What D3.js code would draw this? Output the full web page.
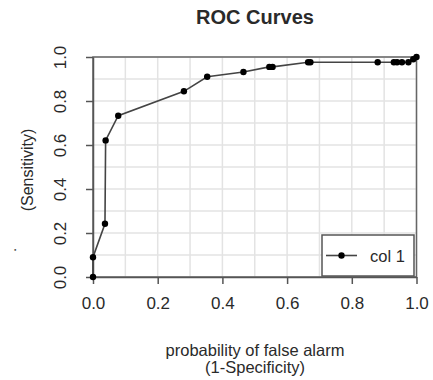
<!DOCTYPE html>
<html>
<head>
<meta charset="utf-8">
<script src="https://cdn.jsdelivr.net/npm/d3@7"></script>
<style>
  body { margin: 0; background: #fff; }
  text { font-family: "Liberation Sans", Arial, sans-serif; fill: #2a2a2a; }
</style>
</head>
<body>
<div id="chart"></div>
<script>
// data
var fpr = [0, 0, 0.037, 0.039, 0.078, 0.281, 0.353, 0.465, 0.545, 0.555, 0.665, 0.672, 0.88, 0.93, 0.94, 0.955, 0.975, 0.99, 1.0];
var tpr = [0, 0.09, 0.242, 0.621, 0.733, 0.844, 0.91, 0.932, 0.955, 0.955, 0.976, 0.976, 0.976, 0.976, 0.976, 0.976, 0.976, 0.99, 1.0];
var tickVals = [0, 0.2, 0.4, 0.6, 0.8, 1.0];
var gridVals = d3.range(0, 11).map(function (i) { return i / 10; });
var seriesName = "col 1";

var margin = { top: 57, right: 16.5, bottom: 103, left: 93 },
  width = 433 - margin.left - margin.right,
  height = 380 - margin.top - margin.bottom;

var root = d3.select("#chart").append("svg")
  .attr("width", 433)
  .attr("height", 380);

var svg = root.append("g")
  .attr("transform", "translate(" + margin.left + "," + margin.top + ")");

var x = d3.scaleLinear().domain([0, 1]).range([0, width]);
var y = d3.scaleLinear().domain([0, 1]).range([height, 0]);

// grid
svg.selectAll(".vgrid").data(gridVals).enter().append("line")
  .attr("x1", function (d) { return x(d); })
  .attr("x2", function (d) { return x(d); })
  .attr("y1", 0).attr("y2", height)
  .attr("stroke", "#e3e3e3").attr("stroke-width", 1.5);
svg.selectAll(".hgrid").data(gridVals).enter().append("line")
  .attr("y1", function (d) { return y(d); })
  .attr("y2", function (d) { return y(d); })
  .attr("x1", 0).attr("x2", width)
  .attr("stroke", "#e3e3e3").attr("stroke-width", 1.5);

// box
svg.append("rect")
  .attr("width", width).attr("height", height)
  .attr("fill", "none").attr("stroke", "#666").attr("stroke-width", 1.5);

// axes
var xAxis = svg.append("g")
  .attr("transform", "translate(0," + height + ")")
  .call(d3.axisBottom(x).tickValues(tickVals).tickFormat(d3.format(".1f")).tickSize(7).tickSizeOuter(0).tickPadding(13));
var yAxis = svg.append("g")
  .call(d3.axisLeft(y).tickValues(tickVals).tickFormat(d3.format(".1f")).tickSize(7).tickSizeOuter(0));

[xAxis, yAxis].forEach(function (a) {
  a.select(".domain").attr("stroke", "#555").attr("stroke-width", 1.5);
  a.selectAll(".tick line").attr("stroke", "#555").attr("stroke-width", 1.5);
  a.selectAll(".tick text").style("font-size", "17px").attr("fill", "#2a2a2a");
});
yAxis.selectAll(".tick text")
  .attr("x", null).attr("dy", null)
  .attr("text-anchor", "middle")
  .attr("transform", "translate(-27,0) rotate(-90)");

// curve
var pts = fpr.map(function (d, i) { return [d, tpr[i]]; });
svg.append("path")
  .datum(pts)
  .attr("fill", "none")
  .attr("stroke", "#444")
  .attr("stroke-width", 1.6)
  .attr("d", d3.line().x(function (d) { return x(d[0]); }).y(function (d) { return y(d[1]); }));
svg.selectAll(".pt").data(pts).enter().append("circle")
  .attr("cx", function (d) { return x(d[0]); })
  .attr("cy", function (d) { return y(d[1]); })
  .attr("r", 3.2)
  .attr("fill", "#000");

// legend
var leg = root.append("g").attr("transform", "translate(322,235)");
leg.append("rect")
  .attr("width", 92).attr("height", 41)
  .attr("fill", "#fff").attr("stroke", "#555").attr("stroke-width", 1.5);
leg.append("line")
  .attr("x1", 4).attr("x2", 35).attr("y1", 20.5).attr("y2", 20.5)
  .attr("stroke", "#444").attr("stroke-width", 1.6);
leg.append("circle").attr("cx", 19.5).attr("cy", 20.5).attr("r", 3.2).attr("fill", "#000");
leg.append("text").attr("x", 48).attr("y", 26.5).style("font-size", "16.5px").text(seriesName);

// titles
root.append("text")
  .attr("x", 255).attr("y", 24)
  .attr("text-anchor", "middle")
  .style("font-size", "20px").style("font-weight", "bold")
  .attr("fill", "#111")
  .text("ROC Curves");

root.append("text")
  .attr("x", 255).attr("y", 356)
  .attr("text-anchor", "middle")
  .style("font-size", "16.5px")
  .text("probability of false alarm");
root.append("text")
  .attr("x", 255).attr("y", 373)
  .attr("text-anchor", "middle")
  .style("font-size", "16.5px")
  .text("(1-Specificity)");

root.append("text")
  .attr("transform", "translate(33,170) rotate(-90)")
  .attr("text-anchor", "middle")
  .style("font-size", "16px")
  .text("(Sensitivity)");
root.append("text")
  .attr("transform", "translate(16,250) rotate(-90)")
  .attr("text-anchor", "middle")
  .style("font-size", "15px")
  .text(".");
</script>
</body>
</html>
